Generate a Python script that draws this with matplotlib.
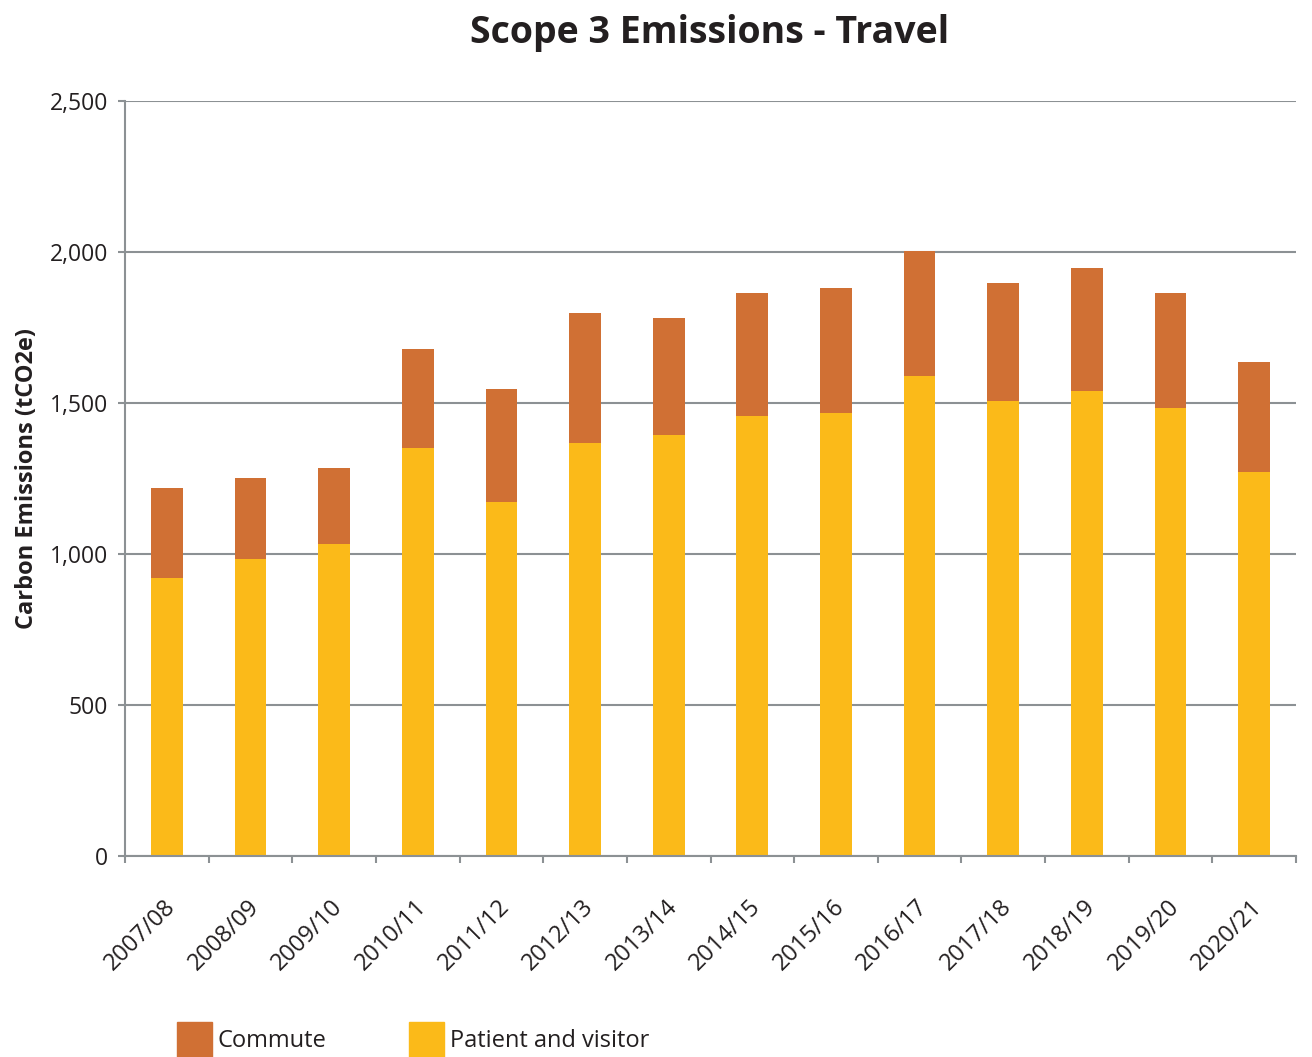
import numpy as np
import matplotlib
matplotlib.use("Agg")
import matplotlib.pyplot as plt
import matplotlib.transforms as mtransforms
from matplotlib.patches import Patch

plt.rcParams['font.family'] = ['Open Sans', 'DejaVu Sans']

years = ['2007/08', '2008/09', '2009/10', '2010/11', '2011/12', '2012/13', '2013/14',
         '2014/15', '2015/16', '2016/17', '2017/18', '2018/19', '2019/20', '2020/21']
patient_visitor = [920, 983, 1033, 1351, 1172, 1367, 1394, 1457, 1467, 1589, 1507, 1540, 1483, 1271]
commute = [298, 269, 252, 328, 374, 431, 387, 407, 414, 414, 390, 407, 381, 365]
yticks = [0, 500, 1000, 1500, 2000, 2500]

COL_COMMUTE = '#D07034'
COL_PATIENT = '#FBBA19'
GRID = '#8C9194'
TEXT = '#231F20'

fig = plt.figure(figsize=(13.12, 10.57), dpi=100)
ax = fig.add_axes([125 / 1312, 1 - 856 / 1057, (1296 - 125) / 1312, (856 - 101) / 1057])

x = np.arange(len(years))
ax.bar(x, patient_visitor, width=0.38, color=COL_PATIENT, zorder=3)
ax.bar(x, commute, width=0.38, bottom=patient_visitor, color=COL_COMMUTE, zorder=3)

ax.set_xlim(-0.5, len(years) - 0.5)
ax.set_ylim(0, 2500)

# tick marks at category boundaries, labels at centres
ax.set_xticks(np.arange(-0.5, len(years), 1.0))
ax.set_xticklabels([])
ax.set_xticks(x, minor=True)
ax.set_xticklabels(years, minor=True, rotation=45, ha='right', va='center',
                   rotation_mode='anchor', fontsize=17, color=TEXT)
ax.tick_params(axis='x', which='minor', length=0, pad=34)
ax.tick_params(axis='x', which='major', length=5, width=1.5, color=GRID)
shift = mtransforms.ScaledTranslation(5 / 100, 0, fig.dpi_scale_trans)
for lab in ax.get_xticklabels(minor=True):
    lab.set_transform(lab.get_transform() + shift)

ax.set_yticks(yticks)
ax.set_yticklabels([f'{v:,}' for v in yticks], fontsize=16.5, color=TEXT)
ax.tick_params(axis='y', length=5, width=1.5, color=GRID, pad=7)

ax.grid(axis='y', color=GRID, linewidth=1.5, zorder=0)
for s in ['top', 'right']:
    ax.spines[s].set_visible(False)
for s in ['left', 'bottom']:
    ax.spines[s].set_color(GRID)
    ax.spines[s].set_linewidth(1.5)
ax.spines['bottom'].set_zorder(4)

ax.set_ylabel('Carbon Emissions (tCO2e)', fontsize=17, fontweight='bold', color=TEXT, labelpad=8)
fig.text(710 / 1312, 1 - 33 / 1057, 'Scope 3 Emissions - Travel', fontsize=27,
         fontweight='bold', color=TEXT, ha='center', va='center')

handles = [Patch(color=COL_COMMUTE), Patch(color=COL_PATIENT)]
fig.legend(handles, ['Commute', 'Patient and visitor'], loc='lower left',
           bbox_to_anchor=(177 / 1312, 0.0), ncol=2, frameon=False, fontsize=17,
           handlelength=1.48, handleheight=1.9, handletextpad=0.25, columnspacing=3.47,
           borderpad=0, borderaxespad=0, labelcolor=TEXT)

fig.savefig('out.png', dpi=100)
